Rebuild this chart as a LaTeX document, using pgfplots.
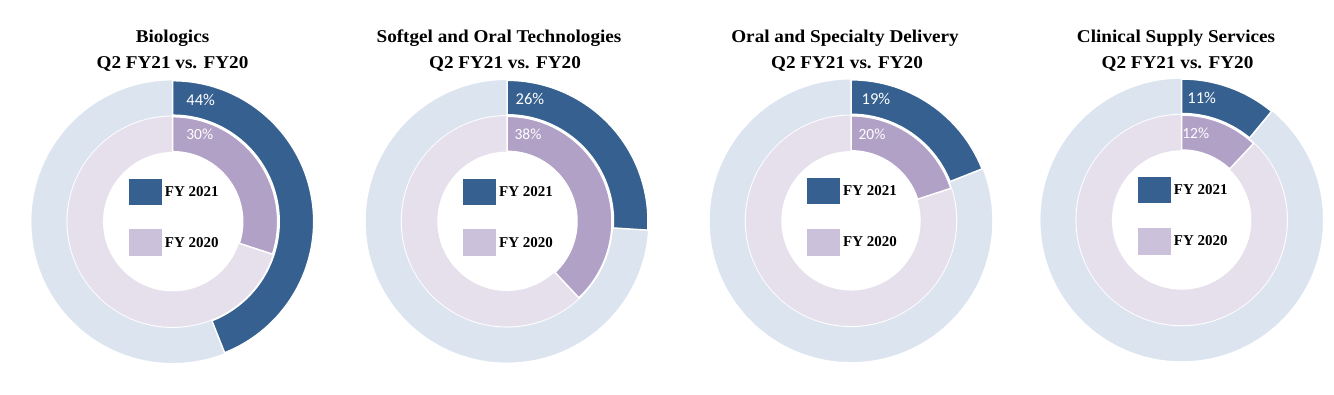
\documentclass[border=0pt]{standalone}
\usepackage{pgfplots}
\pgfplotsset{compat=1.18}
\usepackage{pgfplotstable}
\usepackage{graphicx}
\usepackage{fontspec}
\setmainfont{Liberation Serif}
\newfontfamily\lblfont{Carlito}
\definecolor{c21}{HTML}{35608F}
\definecolor{c21bg}{HTML}{DCE4F0}
\definecolor{c20}{HTML}{B2A1C7}
\definecolor{c20bg}{HTML}{E5E0EC}
\definecolor{c20leg}{HTML}{CCC1DA}
\pgfdeclareplotmark{blank}{}
% centres of the donuts (pt), shares FY2021 (outer) and FY2020 (inner), label x offsets
\pgfplotstableread{
cx     cy    v21 v20 lxa lxb
172.7  172.3 44  30  28  27
507    172.7 26  38  23  21
851    173.2 19  20  25  21
1181.7 174   11  12  20  14
}\donuts
\begin{document}
\begin{tikzpicture}
\begin{axis}[
  scale only axis, width=1334pt, height=394pt,
  xmin=0, xmax=1334, ymin=0, ymax=394,
  hide axis, clip=false,
]
\path[draw=none] (axis cs:0,0) rectangle (axis cs:1334,394);
\addplot[scatter, only marks, mark=blank,
  visualization depends on={\thisrow{v21} \as \pa},
  visualization depends on={\thisrow{v20} \as \pb},
  visualization depends on={\thisrow{lxa} \as \la},
  visualization depends on={\thisrow{lxb} \as \lb},
  scatter/@pre marker code/.code={%
    \pgfmathsetmacro\ea{90-3.6*\pa}%
    \pgfmathsetmacro\eb{90-3.6*\pb}%
    \pgfmathtruncatemacro\ia{round(\pa)}%
    \pgfmathtruncatemacro\ib{round(\pb)}%
    \fill[c21bg, even odd rule] (0pt,0pt) circle[radius=141pt] (0pt,0pt) circle[radius=106.5pt];
    \filldraw[fill=c21, draw=white, line width=1.5pt] (90:141pt) arc[start angle=90, end angle=\ea, radius=141pt] -- (\ea:106.5pt) arc[start angle=\ea, end angle=90, radius=106.5pt] -- cycle;
    \fill[c20bg, even odd rule] (0pt,0pt) circle[radius=105pt] (0pt,0pt) circle[radius=70pt];
    \filldraw[fill=c20, draw=white, line width=1.5pt] (90:105pt) arc[start angle=90, end angle=\eb, radius=105pt] -- (\eb:70pt) arc[start angle=\eb, end angle=90, radius=70pt] -- cycle;
    \node[text=white, inner sep=0pt, font=\lblfont\fontsize{16.5}{16.5}\selectfont] at ({\la*1pt},122pt) {\ia\%};
    \node[text=white, inner sep=0pt, font=\lblfont\fontsize{15.5}{15.5}\selectfont] at ({\lb*1pt},87pt) {\ib\%};
    \fill[c21] (-43.7pt,17.5pt) rectangle (-11.7pt,42.5pt);
    \node[anchor=base west, inner sep=0pt, font=\bfseries\fontsize{15}{15}\selectfont] at (-8pt,25pt) {FY 2021};
    \fill[c20leg] (-43.7pt,-34pt) rectangle (-11.7pt,-8pt);
    \node[anchor=base west, inner sep=0pt, font=\bfseries\fontsize{15}{15}\selectfont] at (-8pt,-26pt) {FY 2020};
  },
  scatter/@post marker code/.code={},
] table[x=cx, y=cy] {\donuts};
\tikzset{ttl/.style={anchor=base, inner sep=0pt, font=\bfseries\fontsize{18}{18}\selectfont}}
\node[ttl] at (axis cs:172.5,351.5) {\scalebox{1.065}[1]{Biologics}};
\node[ttl] at (axis cs:172.5,325.5) {\scalebox{1.065}[1]{Q2 FY21 vs. FY20}};
\node[ttl] at (axis cs:499,351.5) {\scalebox{1.065}[1]{Softgel and Oral Technologies}};
\node[ttl] at (axis cs:505,325.5) {\scalebox{1.065}[1]{Q2 FY21 vs. FY20}};
\node[ttl] at (axis cs:845,351.5) {\scalebox{1.065}[1]{Oral and Specialty Delivery}};
\node[ttl] at (axis cs:847,325.5) {\scalebox{1.065}[1]{Q2 FY21 vs. FY20}};
\node[ttl] at (axis cs:1176,351.5) {\scalebox{1.065}[1]{Clinical Supply Services}};
\node[ttl] at (axis cs:1177.5,325.5) {\scalebox{1.065}[1]{Q2 FY21 vs. FY20}};
\end{axis}
\end{tikzpicture}
\end{document}
